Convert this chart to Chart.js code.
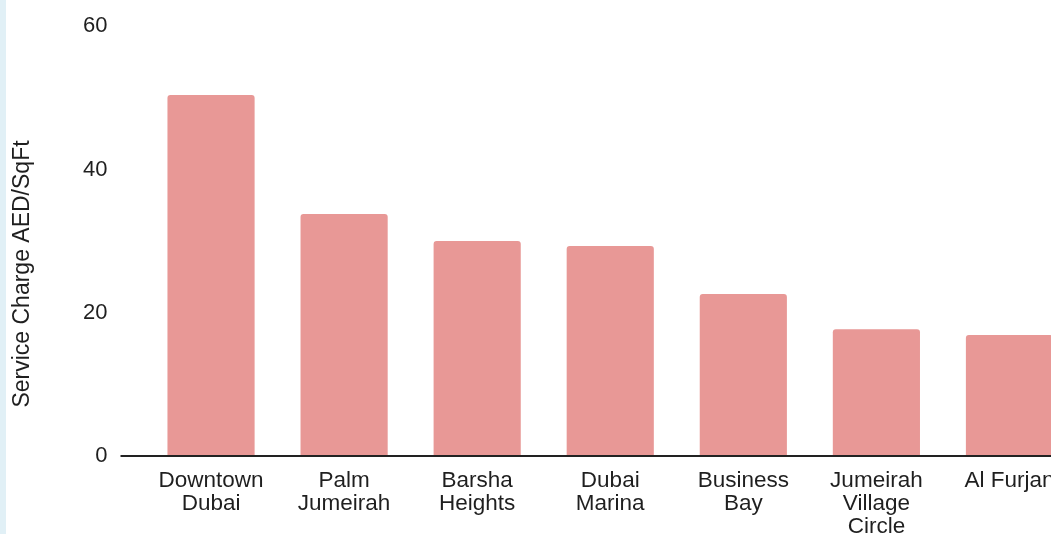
<!DOCTYPE html>
<html lang="en">
<head>
  <meta charset="UTF-8">
  <title>Service Charge by Community</title>
  <style>
    html, body {
      margin: 0;
      padding: 0;
      background: #fff;
      overflow: hidden;
    }

    .wrap {
      position: relative;
      width: 1051px;
      height: 534px;
      overflow: hidden;
    }

    .side {
      position: absolute;
      left: 0;
      top: 0;
      width: 6px;
      height: 534px;
      background: #e1f0f6;
      z-index: 2;
    }

    .chart-box {
      position: absolute;
      left: 0;
      top: 0;
      width: 1076px;
      height: 534px;
    }
  </style>
</head>
<body>
  <div class="wrap">
    <div class="side"></div>
    <div class="chart-box">
      <canvas id="chart"></canvas>
    </div>
  </div>

  <script src="https://cdn.jsdelivr.net/npm/chart.js@4.4.1/dist/chart.umd.min.js"></script>
  <script>
    const communities = [
      ['Downtown', 'Dubai'],
      ['Palm', 'Jumeirah'],
      ['Barsha', 'Heights'],
      ['Dubai', 'Marina'],
      ['Business', 'Bay'],
      ['Jumeirah', 'Village', 'Circle'],
      'Al Furjan'
    ];
    const serviceCharge = [50.4, 33.8, 30.0, 29.3, 22.6, 17.7, 16.9];
    const yTicks = [0, 20, 40, 60];
    const yTitle = 'Service Charge AED/SqFt';

    const textColor = '#1f1f1f';
    const fontFamily = "'Liberation Sans', Arial, sans-serif";
    const font = {family: fontFamily, size: 22};

    // axis title is centred on the whole chart height, not on the plot area
    const yTitlePlugin = {
      id: 'yTitle',
      afterDraw(chart) {
        const ctx = chart.ctx;
        ctx.save();
        ctx.translate(22.5, chart.height / 2 + 7);
        ctx.rotate(-Math.PI / 2);
        ctx.font = `23px ${fontFamily}`;
        ctx.fillStyle = textColor;
        ctx.textAlign = 'center';
        ctx.textBaseline = 'middle';
        ctx.fillText(yTitle, 0, 0);
        ctx.restore();
      }
    };

    new Chart(document.getElementById('chart'), {
      type: 'bar',
      data: {
        labels: communities,
        datasets: [{
          label: yTitle,
          data: serviceCharge,
          backgroundColor: '#e89896',
          borderRadius: 3,
          categoryPercentage: 0.655,
          barPercentage: 1
        }]
      },
      options: {
        responsive: true,
        maintainAspectRatio: false,
        animation: false,
        layout: {padding: {top: 24, right: 0, bottom: 0, left: 0}},
        plugins: {
          legend: {display: false},
          tooltip: {enabled: false}
        },
        scales: {
          x: {
            grid: {display: false},
            border: {display: false},
            ticks: {
              color: textColor,
              font: {family: fontFamily, size: 22.5, lineHeight: 1.02},
              padding: 5,
              maxRotation: 0,
              autoSkip: false
            },
            afterFit: s => { s.height = 78; }
          },
          y: {
            min: 0,
            max: 60,
            afterBuildTicks: s => { s.ticks = yTicks.map(v => ({value: v})); },
            // only the zero line is drawn, reaching out past the chart area
            grid: {
              drawOnChartArea: true,
              tickLength: 24,
              lineWidth: 2,
              color: c => c.tick && c.tick.value === 0 ? '#222' : 'transparent',
              tickColor: c => c.tick && c.tick.value === 0 ? '#222' : 'transparent'
            },
            border: {display: false},
            ticks: {color: textColor, font, padding: 13},
            afterFit: s => { s.width = 144.5; }
          }
        }
      },
      plugins: [yTitlePlugin]
    });
  </script>
</body>
</html>
